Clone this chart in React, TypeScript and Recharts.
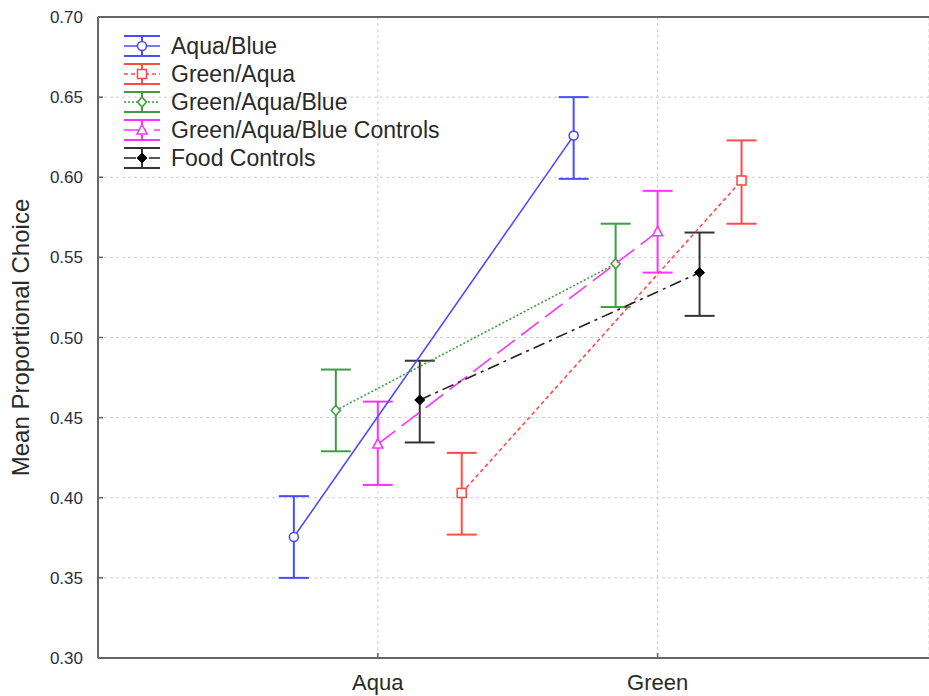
import React from "react";
import {
  ComposedChart,
  Scatter,
  XAxis,
  YAxis,
  CartesianGrid,
  ErrorBar,
  ReferenceLine,
  Legend,
} from "recharts";

// Two conditions on the x axis; each group is dodged sideways around them.
const CATEGORIES = ["Aqua", "Green"];
const CATEGORY_POS = [1, 2];
const Y_TICKS = [0.3, 0.35, 0.4, 0.45, 0.5, 0.55, 0.6, 0.65, 0.7];

const SERIES_NAMES = [
  "Aqua/Blue",
  "Green/Aqua",
  "Green/Aqua/Blue",
  "Green/Aqua/Blue Controls",
  "Food Controls",
];
const DODGE = [-0.3, 0.3, -0.15, 0, 0.15];

// mean and CI bounds, [Aqua, Green]
const AQUA_BLUE_MEAN = [0.3755, 0.626];
const AQUA_BLUE_LOW = [0.35, 0.599];
const AQUA_BLUE_HIGH = [0.401, 0.65];

const GREEN_AQUA_MEAN = [0.403, 0.598];
const GREEN_AQUA_LOW = [0.377, 0.571];
const GREEN_AQUA_HIGH = [0.428, 0.623];

const GAB_MEAN = [0.4545, 0.546];
const GAB_LOW = [0.429, 0.519];
const GAB_HIGH = [0.48, 0.571];

const GAB_CTRL_MEAN = [0.4335, 0.566];
const GAB_CTRL_LOW = [0.408, 0.5405];
const GAB_CTRL_HIGH = [0.46, 0.5915];

const FOOD_MEAN = [0.461, 0.5405];
const FOOD_LOW = [0.4345, 0.5135];
const FOOD_HIGH = [0.4855, 0.5655];

const MEANS = [AQUA_BLUE_MEAN, GREEN_AQUA_MEAN, GAB_MEAN, GAB_CTRL_MEAN, FOOD_MEAN];
const LOWS = [AQUA_BLUE_LOW, GREEN_AQUA_LOW, GAB_LOW, GAB_CTRL_LOW, FOOD_LOW];
const HIGHS = [AQUA_BLUE_HIGH, GREEN_AQUA_HIGH, GAB_HIGH, GAB_CTRL_HIGH, FOOD_HIGH];

type MarkerKind = "circle" | "square" | "diamond" | "triangle" | "filledDiamond";

const STYLES: { color: string; barColor: string; dash?: string; marker: MarkerKind }[] = [
  { color: "#4b4bff", barColor: "#4b4bff", marker: "circle" },
  { color: "#ff4b4b", barColor: "#ff4b4b", dash: "4 3", marker: "square" },
  { color: "#3f9f3f", barColor: "#3f9f3f", dash: "2 2", marker: "diamond" },
  { color: "#ff33ff", barColor: "#ff33ff", dash: "22 8", marker: "triangle" },
  { color: "#222222", barColor: "#333333", dash: "12 5 3 5", marker: "filledDiamond" },
];

const series = SERIES_NAMES.map((name, s) => ({
  name,
  ...STYLES[s],
  data: CATEGORIES.map((cat, i) => ({
    cat,
    x: CATEGORY_POS[i] + DODGE[s],
    y: MEANS[s][i],
    err: [MEANS[s][i] - LOWS[s][i], HIGHS[s][i] - MEANS[s][i]],
  })),
}));

function Marker({ cx, cy, kind, color }: { cx: number; cy: number; kind: MarkerKind; color: string }) {
  const r = 4.5;
  if (kind === "square")
    return <rect x={cx - r} y={cy - r} width={2 * r} height={2 * r} fill="#fff" stroke={color} strokeWidth={1.6} />;
  if (kind === "diamond")
    return (
      <polygon
        points={`${cx},${cy - r - 0.5} ${cx + r},${cy} ${cx},${cy + r + 0.5} ${cx - r},${cy}`}
        fill="#fff"
        stroke={color}
        strokeWidth={1.6}
      />
    );
  if (kind === "triangle")
    return (
      <polygon
        points={`${cx},${cy - r - 1} ${cx + r + 0.5},${cy + r - 0.5} ${cx - r - 0.5},${cy + r - 0.5}`}
        fill="#fff"
        stroke={color}
        strokeWidth={1.6}
      />
    );
  if (kind === "filledDiamond")
    return (
      <polygon
        points={`${cx},${cy - 5} ${cx + 5},${cy} ${cx},${cy + 5} ${cx - 5},${cy}`}
        fill="#000"
        stroke="#000"
        strokeWidth={1}
      />
    );
  return <circle cx={cx} cy={cy} r={r} fill="#fff" stroke={color} strokeWidth={1.6} />;
}

function LegendBox() {
  return (
    <div style={{ display: "flex", flexDirection: "column" }}>
      {series.map((s) => (
        <div key={s.name} style={{ display: "flex", alignItems: "center", height: 28 }}>
          <svg width={38} height={28} style={{ display: "block" }}>
            <line x1={1} x2={37} y1={4} y2={4} stroke={s.barColor} strokeWidth={2} />
            <line x1={1} x2={37} y1={24} y2={24} stroke={s.barColor} strokeWidth={2} />
            <line x1={19} x2={19} y1={4} y2={24} stroke={s.barColor} strokeWidth={2} />
            <line x1={1} x2={37} y1={14} y2={14} stroke={s.color} strokeWidth={1.6} strokeDasharray={s.dash} />
            <Marker cx={19} cy={14} kind={s.marker} color={s.color} />
          </svg>
          <span style={{ marginLeft: 10, fontSize: 23, color: "#2a2a2a", lineHeight: "28px", whiteSpace: "nowrap" }}>
            {s.name}
          </span>
        </div>
      ))}
    </div>
  );
}

export default function App() {
  return (
    <div
      style={{
        position: "absolute",
        left: 0,
        top: 0,
        width: 929,
        height: 696,
        background: "#fff",
        fontFamily: "'Liberation Sans', Arial, sans-serif",
      }}
    >
      <ComposedChart width={929} height={696} margin={{ top: 17, right: 0, bottom: 0, left: 0 }}>
        <CartesianGrid stroke="#cfcfcf" strokeDasharray="3 3" />
        <XAxis
          type="number"
          dataKey="x"
          domain={[0, 2.97]}
          ticks={CATEGORY_POS}
          tickFormatter={(v) => CATEGORIES[CATEGORY_POS.indexOf(Number(v))] ?? ""}
          allowDataOverflow
          height={38}
          tickSize={-5}
          tickMargin={21}
          tick={{ fill: "#2a2a2a", fontSize: 22 }}
          axisLine={{ stroke: "#666", strokeWidth: 2 }}
          tickLine={{ stroke: "#666", strokeWidth: 1.5 }}
        />
        <YAxis
          type="number"
          dataKey="y"
          domain={[0.3, 0.7]}
          ticks={Y_TICKS}
          allowDataOverflow
          width={98}
          tickFormatter={(v) => Number(v).toFixed(2)}
          tickSize={-5}
          tickMargin={20}
          tick={{ fill: "#2a2e3a", fontSize: 17 }}
          axisLine={{ stroke: "#666", strokeWidth: 2 }}
          tickLine={{ stroke: "#666", strokeWidth: 1.5 }}
          label={{
            value: "Mean Proportional Choice",
            angle: -90,
            position: "insideLeft",
            offset: 20,
            style: { textAnchor: "middle", fill: "#2a2a2a", fontSize: 24 },
          }}
        />
        <ReferenceLine y={0.7} stroke="#666" strokeWidth={2} ifOverflow="extendDomain" />
        {series.map((s) => (
          <Scatter
            key={s.name}
            name={s.name}
            data={s.data}
            dataKey="y"
            isAnimationActive={false}
            line={{ stroke: s.color, strokeWidth: 1.6, strokeDasharray: s.dash }}
            lineType="joint"
            shape={(p: any) => <Marker cx={p.cx} cy={p.cy} kind={s.marker} color={s.color} />}
          >
            <ErrorBar
              dataKey="err"
              direction="y"
              width={15}
              stroke={s.barColor}
              strokeWidth={2}
              isAnimationActive={false}
            />
          </Scatter>
        ))}
        <Legend
          layout="vertical"
          align="center"
          verticalAlign="middle"
          content={() => <LegendBox />}
          wrapperStyle={{ top: 32, left: 123, width: "auto", height: "auto" }}
        />
      </ComposedChart>
    </div>
  );
}
